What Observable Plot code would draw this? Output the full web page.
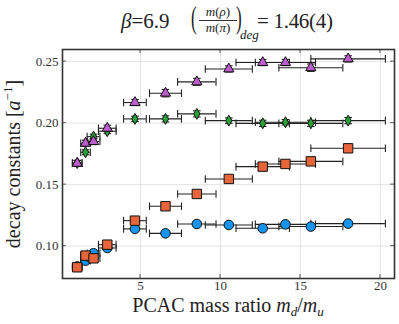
<!DOCTYPE html>
<html>
<head>
<meta charset="utf-8">
<script src="https://cdn.jsdelivr.net/npm/d3@7"></script>
<script src="https://cdn.jsdelivr.net/npm/@observablehq/plot@0.6"></script>
<style>
  html, body { margin: 0; padding: 0; background: #fff; }
  #wrap { position: relative; width: 399px; height: 324px; overflow: hidden; }
  #title { position: absolute; left: 0; top: 0; width: 399px; height: 44px; z-index: 2;
    font-family: "Liberation Serif", serif; color: #222; pointer-events: none; }
  #title .t { position: absolute; white-space: nowrap; line-height: 1; }
  #chart { position: absolute; left: 0; top: 40px; z-index: 1; }
  i { font-style: italic; }
</style>
</head>
<body>
<div id="wrap">
  <div id="title">
    <span class="t" style="left:121px; top:11px; font-size:21px;"><i>β</i>=6.9</span>
    <span class="t" style="left:191px; top:2px; font-size:31px; transform:scaleX(0.55); transform-origin:left;">(</span>
    <span class="t" style="left:200px; top:5px; font-size:13px; width:36px; text-align:center;"><i>m</i>(<i>ρ</i>)</span>
    <span class="t" style="left:199px; top:19.5px; width:38px; height:0; border-top:0.8px solid #333;"></span>
    <span class="t" style="left:200px; top:21px; font-size:13px; width:36px; text-align:center;"><i>m</i>(<i>π</i>)</span>
    <span class="t" style="left:236px; top:2px; font-size:31px; transform:scaleX(0.55); transform-origin:left;">)</span>
    <span class="t" style="left:240px; top:28px; font-size:13px;"><i>deg</i></span>
    <span class="t" style="left:257px; top:11px; font-size:21px; letter-spacing:-0.3px;">= 1.46(4)</span>
  </div>
  <div id="chart"></div>
</div>
<script>
// PCAC mass ratio (x) with horizontal uncertainties
const massRatio = [1.04, 1.56, 2.06, 2.92, 4.65, 6.56, 8.52, 10.52, 12.64, 14.06, 15.65, 17.98];
const massRatioErr = [0.3, 0.3, 0.4, 0.55, 0.71, 1.0, 1.2, 1.47, 1.67, 1.88, 2.0, 2.33];

// decay constants, four series
const circleVals = [0.0835, 0.0882, 0.0942, 0.0985, 0.114, 0.1104, 0.118, 0.1172, 0.1145, 0.1177, 0.1159, 0.1183];
const circleErr  = [0.001, 0.001, 0.001, 0.001, 0.0012, 0.0012, 0.0012, 0.0012, 0.0012, 0.0012, 0.0012, 0.0012];
const squareVals = [0.0828, 0.0923, 0.0901, 0.1012, 0.1207, 0.1324, 0.1424, 0.1546, 0.1646, 0.1668, 0.1689, 0.1795];
const squareErr  = [0.001, 0.001, 0.001, 0.001, 0.0012, 0.0012, 0.0012, 0.0012, 0.0012, 0.0012, 0.0012, 0.0012];
const diamondVals = [0.1675, 0.1763, 0.189, 0.1934, 0.2034, 0.2034, 0.2075, 0.202, 0.1998, 0.2007, 0.1998, 0.202];
const diamondErr  = [0.002, 0.002, 0.002, 0.002, 0.0022, 0.0025, 0.0025, 0.0022, 0.0025, 0.0022, 0.0025, 0.0025];
const triangleVals = [0.1673, 0.1836, 0.185, 0.1958, 0.2167, 0.2243, 0.2335, 0.244, 0.2492, 0.2492, 0.245, 0.2522];
const triangleErr  = [0.0025, 0.0025, 0.0025, 0.0025, 0.0025, 0.003, 0.0028, 0.0025, 0.0025, 0.0025, 0.003, 0.0025];

const xTicks = [5, 10, 15, 20];
const yTicks = [0.10, 0.15, 0.20, 0.25];

const seriesDefs = [
  {name: "circle", vals: circleVals, err: circleErr, symbol: "circle", fill: "#1394ee", r: 4.8},
  {name: "square", vals: squareVals, err: squareErr, symbol: "square", fill: "#e8643a", r: 5.3},
  {name: "diamond", vals: diamondVals, err: diamondErr, symbol: "diamond", fill: "#27a336", r: 3.3},
  {name: "triangle", vals: triangleVals, err: triangleErr, symbol: "triangle", fill: "#bd5ccc", r: 3.8}
];

const vCap = {draw(ctx, size) { const r = Math.sqrt(size / Math.PI); ctx.moveTo(0, -r); ctx.lineTo(0, r); }};
const hCap = {draw(ctx, size) { const r = Math.sqrt(size / Math.PI); ctx.moveTo(-r, 0); ctx.lineTo(r, 0); }};

const marks = [
  Plot.gridX(xTicks, {stroke: "#ddd", strokeOpacity: 1, strokeWidth: 0.8}),
  Plot.gridY(yTicks, {stroke: "#ddd", strokeOpacity: 1, strokeWidth: 0.8}),
  Plot.axisX({ticks: xTicks, tickSize: 0, tickPadding: 2, label: null, fontSize: 13}),
  Plot.axisY({ticks: yTicks, tickSize: 0, tickPadding: 4, label: null, fontSize: 13, tickFormat: d3.format(".2f")})
];

for (const s of seriesDefs) {
  const rows = massRatio.map((x, i) => ({x, ex: massRatioErr[i], y: s.vals[i], ey: s.err[i]}));
  marks.push(
    Plot.ruleY(rows, {y: "y", x1: d => d.x - d.ex, x2: d => d.x + d.ex, stroke: "#222", strokeWidth: 1.1}),
    Plot.ruleX(rows, {x: "x", y1: d => d.y - d.ey, y2: d => d.y + d.ey, stroke: "#222", strokeWidth: 1.1}),
    Plot.dot(rows, {x: d => d.x - d.ex, y: "y", symbol: vCap, r: 3.8, stroke: "#222", fill: "none", strokeWidth: 1.1}),
    Plot.dot(rows, {x: d => d.x + d.ex, y: "y", symbol: vCap, r: 3.8, stroke: "#222", fill: "none", strokeWidth: 1.1}),
    Plot.dot(rows, {x: "x", y: d => d.y - d.ey, symbol: hCap, r: 3.8, stroke: "#222", fill: "none", strokeWidth: 1.1}),
    Plot.dot(rows, {x: "x", y: d => d.y + d.ey, symbol: hCap, r: 3.8, stroke: "#222", fill: "none", strokeWidth: 1.1}),
    Plot.dot(rows, {x: "x", y: "y", symbol: s.symbol, r: s.r, fill: s.fill, stroke: "#111", strokeWidth: 1})
  );
}

marks.push(Plot.frame({stroke: "#333", strokeWidth: 1.6}));

const chart = Plot.plot({
  width: 399,
  height: 284,
  marginTop: 9,
  marginBottom: 46,
  marginLeft: 62,
  marginRight: 5,
  style: {fontFamily: "Liberation Serif, serif", fontSize: "13px", color: "#333", background: "transparent"},
  x: {domain: [0.12, 20.88], type: "linear"},
  y: {domain: [0.0737, 0.2598], type: "linear"},
  marks
});
document.getElementById("chart").appendChild(chart);

// inward tick marks on all four sides
const svg = d3.select(chart);
const xs = chart.scale("x"), ys = chart.scale("y");
const g = svg.append("g").attr("stroke", "#333").attr("stroke-width", 0.8);
for (const t of xTicks) {
  const px = xs.apply(t);
  g.append("line").attr("x1", px).attr("x2", px).attr("y1", 238).attr("y2", 234);
  g.append("line").attr("x1", px).attr("x2", px).attr("y1", 9).attr("y2", 13);
}
for (const t of yTicks) {
  const py = ys.apply(t);
  g.append("line").attr("x1", 62).attr("x2", 66).attr("y1", py).attr("y2", py);
  g.append("line").attr("x1", 394).attr("x2", 390).attr("y1", py).attr("y2", py);
}

// axis labels with math italics
const xl = svg.append("text").attr("x", 228).attr("y", 272).attr("text-anchor", "middle")
  .attr("font-family", "Liberation Serif, serif").attr("font-size", 20).attr("fill", "#222");
xl.append("tspan").text("PCAC mass ratio ");
xl.append("tspan").attr("font-style", "italic").text("m");
xl.append("tspan").attr("font-style", "italic").attr("font-size", 13).attr("dy", 4).text("d");
xl.append("tspan").attr("dy", -4).text("/");
xl.append("tspan").attr("font-style", "italic").text("m");
xl.append("tspan").attr("font-style", "italic").attr("font-size", 13).attr("dy", 4).text("u");

const yl = svg.append("text").attr("transform", "translate(20,124) rotate(-90)").attr("text-anchor", "middle")
  .attr("font-family", "Liberation Serif, serif").attr("font-size", 20).attr("fill", "#222");
yl.append("tspan").text("decay constants [");
yl.append("tspan").attr("font-style", "italic").text("a");
yl.append("tspan").attr("font-size", 13).attr("dy", -8).text("−1");
yl.append("tspan").attr("dy", 8).text("]");
</script>
</body>
</html>
